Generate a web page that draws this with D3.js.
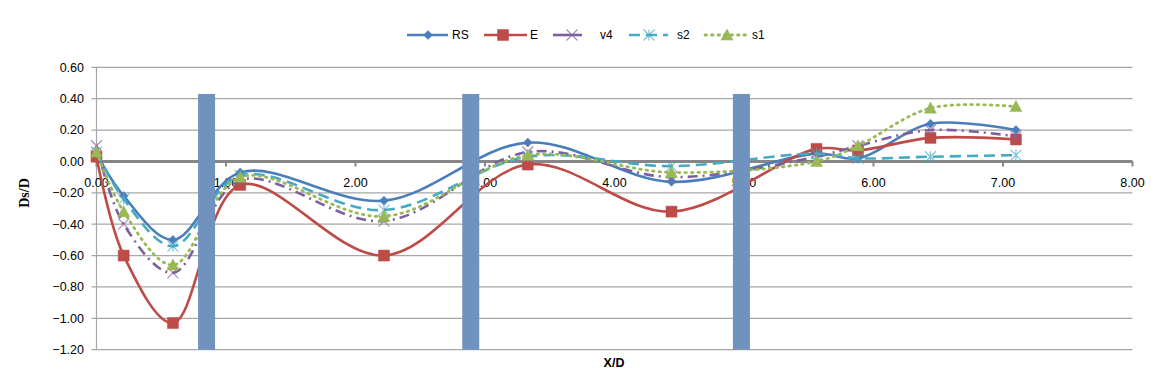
<!DOCTYPE html>
<html><head><meta charset="utf-8">
<script src="https://cdn.jsdelivr.net/npm/d3@7"></script>
<style>body{margin:0;background:#fff}svg{display:block}</style>
</head><body>
<svg id="chart" width="1151" height="385"></svg>
<script>
const xValues = [0, 0.21, 0.59, 1.11, 2.22, 3.33, 4.44, 5.56, 5.88, 6.44, 7.10];
const RS = [0.05, -0.22, -0.50, -0.07, -0.25, 0.12, -0.13, 0.05, 0.02, 0.24, 0.20];
const E  = [0.03, -0.60, -1.03, -0.15, -0.60, -0.02, -0.32, 0.08, 0.07, 0.15, 0.14];
const v4 = [0.10, -0.40, -0.71, -0.12, -0.38, 0.06, -0.10, 0.03, 0.10, 0.20, 0.16];
const s2 = [0.06, -0.24, -0.54, -0.09, -0.31, 0.03, -0.03, 0.05, 0.02, 0.03, 0.04];
const s1 = [0.06, -0.32, -0.66, -0.10, -0.35, 0.04, -0.07, 0.00, 0.10, 0.34, 0.35];
const seriesNames = ["RS", "E", "v4", "s2", "s1"];
const pierX = [0.85, 2.89, 4.98];
const pierTop = 0.43;
const xTicks = [0, 1, 2, 3, 4, 5, 6, 7, 8];
const yTicks = [0.6, 0.4, 0.2, 0, -0.2, -0.4, -0.6, -0.8, -1.0, -1.2];

const seriesData = {RS, E, v4, s2, s1};
const styles = {
  RS: {color: "#4A7EBB", dash: null, width: 2.6, marker: "diamond"},
  E:  {color: "#BE4B48", dash: null, width: 2.6, marker: "square"},
  v4: {color: "#7D60A0", dash: "10,5,2,5", width: 2.6, marker: "x"},
  s2: {color: "#46AAC5", dash: "11,6", width: 2.6, marker: "star"},
  s1: {color: "#98B954", dash: "1.5,5", width: 2.8, marker: "triangle", cap: "round"}
};

const svg = d3.select("#chart");
const x = d3.scaleLinear().domain([0, 8]).range([96.5, 1132.5]);
const y = d3.scaleLinear().domain([-1.2, 0.6]).range([349.7, 67.3]);

// grid
const grid = svg.append("g");
grid.selectAll("line").data(yTicks).join("line")
  .attr("x1", x(0) - 5).attr("x2", x(8))
  .attr("y1", d => y(d)).attr("y2", d => y(d))
  .attr("stroke", "#A6A6A6").attr("stroke-width", 1.2);
// y axis line
svg.append("line").attr("x1", x(0)).attr("x2", x(0)).attr("y1", y(0.6)).attr("y2", y(-1.2))
  .attr("stroke", "#A6A6A6").attr("stroke-width", 1.2);
// y labels
svg.append("g").selectAll("text").data(yTicks).join("text")
  .attr("x", 84).attr("y", d => y(d)).attr("dy", "0.35em")
  .attr("text-anchor", "end").attr("font-family", "Liberation Sans, Arial, sans-serif")
  .attr("font-size", 12.5).attr("fill", "#000")
  .text(d => d3.format(".2f")(d));

// zero axis
svg.append("line").attr("x1", x(0)).attr("x2", x(8)).attr("y1", y(0)).attr("y2", y(0))
  .attr("stroke", "#868686").attr("stroke-width", 3);
svg.append("g").selectAll("line").data(xTicks).join("line")
  .attr("x1", d => x(d)).attr("x2", d => x(d)).attr("y1", y(0)).attr("y2", y(0) + 5)
  .attr("stroke", "#868686").attr("stroke-width", 2);
svg.append("g").selectAll("text").data(xTicks).join("text")
  .attr("x", d => x(d)).attr("y", 187)
  .attr("text-anchor", "middle").attr("font-family", "Liberation Sans, Arial, sans-serif")
  .attr("font-size", 12.5).attr("fill", "#000")
  .text(d => d3.format(".2f")(d));

// lines
const line = d3.line().x(d => x(d[0])).y(d => y(d[1])).curve(d3.curveCatmullRom.alpha(0.5));
function markerPath(type, s) {
  const h = s / 2;
  if (type === "diamond") return `M0,${-h}L${h},0L0,${h}L${-h},0Z`;
  if (type === "square") return `M${-h},${-h}H${h}V${h}H${-h}Z`;
  if (type === "triangle") return `M0,${-h}L${h},${h*0.85}L${-h},${h*0.85}Z`;
  if (type === "x") return `M${-h},${-h}L${h},${h}M${-h},${h}L${h},${-h}`;
  if (type === "star") return `M${-h},${-h}L${h},${h}M${-h},${h}L${h},${-h}M0,${-h}V${h}`;
}
const markerSize = {diamond: 9, square: 11, triangle: 12, x: 11, star: 11};
function drawMarker(g, type, color, cx, cy) {
  const filled = type === "diamond" || type === "square" || type === "triangle";
  g.append("path").attr("d", markerPath(type, markerSize[type]))
    .attr("transform", `translate(${cx},${cy})`)
    .attr("fill", filled ? color : "none")
    .attr("stroke", color)
    .attr("stroke-width", filled ? 0.5 : 1.2)
    .attr("opacity", filled ? 1 : 0.7);
}
seriesNames.forEach(name => {
  const st = styles[name];
  const pts = xValues.map((xv, i) => [xv, seriesData[name][i]]);
  const g = svg.append("g");
  g.append("path").attr("d", line(pts)).attr("fill", "none")
    .attr("stroke", st.color).attr("stroke-width", st.width)
    .attr("stroke-dasharray", st.dash).attr("stroke-linecap", st.cap || "butt");
  pts.forEach(p => drawMarker(g, st.marker, st.color, x(p[0]), y(p[1])));
});

// piers
svg.append("g").selectAll("rect").data(pierX).join("rect")
  .attr("x", d => x(d) - 8.5).attr("width", 17)
  .attr("y", y(pierTop)).attr("height", y(-1.2) - y(pierTop))
  .attr("fill", "#7092BE");

// legend
const legendItems = [
  {name: "RS", x0: 407, x1: 448, mx: 428, tx: 452},
  {name: "E", x0: 484, x1: 527, mx: 503, tx: 530},
  {name: "v4", x0: 553, x1: 582, mx: 572, tx: 600},
  {name: "s2", x0: 629, x1: 668, mx: 649, tx: 677},
  {name: "s1", x0: 705, x1: 750, mx: 727, tx: 752}
];
const lg = svg.append("g");
legendItems.forEach(it => {
  const st = styles[it.name];
  lg.append("line").attr("x1", it.x0).attr("x2", it.x1).attr("y1", 35).attr("y2", 35)
    .attr("stroke", st.color).attr("stroke-width", st.width)
    .attr("stroke-dasharray", it.name === "v4" ? null : st.dash)
    .attr("stroke-linecap", st.cap || "butt");
  drawMarker(lg, st.marker, st.color, it.mx, 35);
  lg.append("text").attr("x", it.tx).attr("y", 35).attr("dy", "0.35em")
    .attr("font-family", "Liberation Sans, Arial, sans-serif").attr("font-size", 12)
    .text(it.name);
});

// axis titles
svg.append("text").attr("transform", "translate(29,193) rotate(-90)")
  .attr("text-anchor", "middle").attr("font-family", "Liberation Serif, Times New Roman, serif")
  .attr("font-weight", "bold").attr("font-size", 14).text("Ds/D");
svg.append("text").attr("x", 614).attr("y", 367)
  .attr("text-anchor", "middle").attr("font-family", "Liberation Sans, Arial, sans-serif")
  .attr("font-weight", "bold").attr("font-size", 12.5).text("X/D");
</script>
</body></html>
